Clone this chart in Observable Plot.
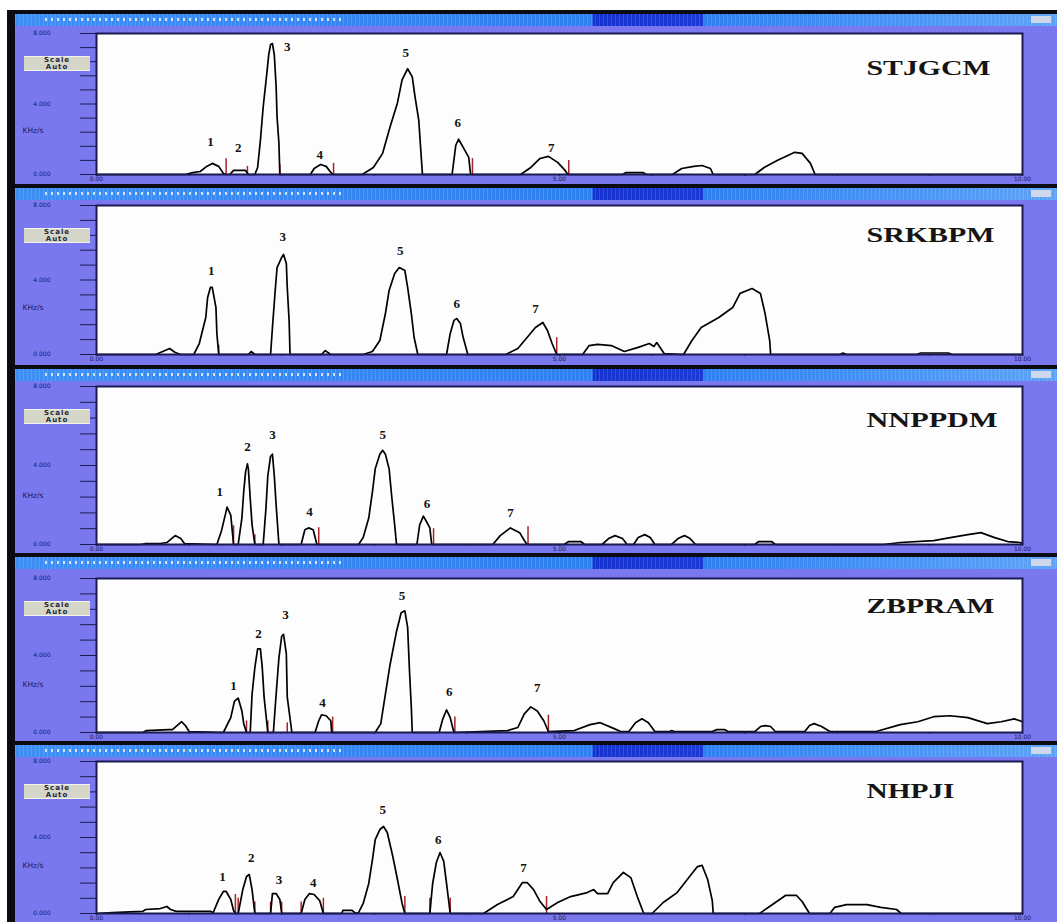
<!DOCTYPE html>
<html>
<head>
<meta charset="utf-8">
<script src="https://cdn.jsdelivr.net/npm/d3@7"></script>
<script src="https://cdn.jsdelivr.net/npm/@observablehq/plot@0.6"></script>
<style>
  html, body { margin: 0; padding: 0; background: #ffffff; }
  #wrap { position: absolute; left: 7px; top: 10px; width: 1042px; border-left: 8px solid #0b0b14; }
  .panel { position: relative; width: 1042px; }
  .blackbar { height: 4px; background: #0b0b14; }
  .titlebar { position: relative; height: 12px;
    background:
      repeating-linear-gradient(90deg, rgba(255,255,255,0.13) 0 1px, rgba(255,255,255,0) 1px 4px),
      linear-gradient(to right, #3f8ff3 0%, #2f80f0 55.4%, #1733cf 55.5%, #1a3ad6 66%, #2f80f0 66.1%, #5ea3f6 100%);
  }
  .titlebar .dots { position: absolute; left: 30px; top: 4px; width: 300px; height: 3px;
    background: repeating-linear-gradient(90deg, rgba(255,255,255,0.75) 0 2px, rgba(255,255,255,0) 2px 6px); }
  .titlebar .mini { position: absolute; right: 6px; top: 2px; width: 20px; height: 7px; background: #cfd8ea; }
  .btn { position: absolute; left: 9px; width: 66px; height: 13px; background: #d6d6c8;
    border-top: 1px solid #f4f4ee; border-bottom: 1px solid #f4f4ee;
    font: bold 7px "DejaVu Sans", sans-serif; color: #26263a; text-align: center; line-height: 6.5px; letter-spacing: 1px; }
  svg { display: block; }
</style>
</head>
<body>
<div id="wrap"></div>
<script>
// ---------------- data ----------------
const sampleNames = ["STJGCM", "SRKBPM", "NNPPDM", "ZBPRAM", "NHPJI"];
const unitLabel = "KHz/s";
const buttonText = ["Scale", "Auto"];
const timeTicks = [0, 1, 2, 3, 4, 5, 6, 7, 8, 9, 10];
const signalTicks = [0, 0.8, 1.6, 2.4, 3.2, 4, 4.8, 5.6, 6.4, 7.2, 8];

// traces: [time (min), signal]
const traceSTJGCM = [
  [0,0],[0.96,0],[1.04,0.11],[1.12,0.17],[1.19,0.46],[1.25,0.63],[1.32,0.46],[1.37,0.06],[1.40,0],[1.44,0],
  [1.48,0.23],[1.61,0.23],[1.64,0],[1.71,0],[1.74,0.40],[1.77,1.94],[1.80,3.83],[1.84,5.77],[1.86,6.80],
  [1.88,7.37],[1.90,7.43],[1.92,6.80],[1.94,4.97],[1.95,3.26],[1.97,1.77],[1.98,0],[2.31,0],[2.35,0.34],
  [2.42,0.57],[2.48,0.46],[2.54,0.06],[2.56,0],[2.87,0],[2.99,0.40],[3.09,1.20],[3.17,2.69],[3.25,4.06],
  [3.30,5.37],[3.36,6.00],[3.41,5.54],[3.44,4.40],[3.48,3.09],[3.50,1.54],[3.52,0],[3.84,0],[3.88,1.66],
  [3.91,2.00],[3.96,1.54],[4.02,0.97],[4.04,0],[4.58,0],[4.69,0.40],[4.79,0.91],[4.88,1.03],[4.98,0.69],
  [5.06,0.23],[5.09,0],[5.68,0],[5.72,0.11],[5.90,0.11],[5.94,0],[6.22,0],[6.32,0.34],[6.45,0.46],
  [6.54,0.51],[6.63,0.34],[6.66,0],[7.11,0],[7.21,0.40],[7.35,0.80],[7.54,1.26],[7.62,1.20],[7.71,0.63],
  [7.76,0],[10,0]
];
const traceSRKBPM = [
  [0,0],[0.64,0],[0.69,0.11],[0.79,0.32],[0.85,0.11],[0.91,0],[1.05,0],[1.11,0.59],[1.18,1.99],[1.20,3.06],
  [1.23,3.60],[1.25,3.60],[1.29,2.52],[1.30,1.13],[1.32,0],[1.64,0],[1.67,0.16],[1.71,0],[1.88,0],[1.90,1.45],
  [1.93,3.44],[1.95,4.67],[2.00,5.21],[2.02,5.37],[2.05,4.89],[2.06,3.60],[2.08,1.83],[2.09,0],[2.43,0],
  [2.47,0.21],[2.53,0],[2.88,0],[2.98,0.16],[3.06,0.75],[3.12,2.20],[3.16,3.44],[3.22,4.35],[3.27,4.67],
  [3.33,4.51],[3.36,3.60],[3.40,2.20],[3.43,0.91],[3.47,0],[3.78,0],[3.82,1.13],[3.86,1.83],[3.89,1.93],
  [3.93,1.66],[3.96,0.91],[4.01,0],[4.42,0],[4.55,0.32],[4.65,0.91],[4.74,1.45],[4.82,1.72],[4.87,1.29],
  [4.92,0.59],[4.97,0],[5.25,0],[5.32,0.48],[5.41,0.54],[5.56,0.48],[5.70,0.16],[5.85,0.38],[5.97,0.59],
  [6.02,0.43],[6.05,0.64],[6.13,0.05],[6.34,0],[6.43,0.75],[6.53,1.45],[6.72,1.99],[6.87,2.52],[6.95,3.28],
  [7.08,3.54],[7.17,3.28],[7.22,2.20],[7.27,0.75],[7.28,0],[8.03,0],[8.06,0.08],[8.10,0],[8.86,0],
  [8.90,0.08],[9.20,0.08],[9.24,0],[10,0]
];
const traceNNPPDM = [
  [0,0],[0.48,0],[0.53,0.05],[0.69,0.05],[0.76,0.10],[0.81,0.30],[0.85,0.45],[0.91,0.30],[0.95,0.05],
  [1.30,0],[1.35,0.70],[1.39,1.49],[1.41,1.89],[1.45,1.49],[1.47,0.50],[1.48,0],[1.53,0],[1.57,1.34],
  [1.59,2.68],[1.61,3.68],[1.63,4.08],[1.64,3.83],[1.66,2.34],[1.68,0.99],[1.71,0],[1.80,0],[1.83,1.84],
  [1.85,3.48],[1.88,4.47],[1.90,4.57],[1.92,3.48],[1.94,1.99],[1.97,0],[2.21,0],[2.25,0.75],[2.29,0.84],
  [2.34,0.75],[2.38,0],[2.83,0],[2.88,0.35],[2.94,1.34],[2.98,2.68],[3.01,3.83],[3.06,4.57],[3.09,4.77],
  [3.12,4.57],[3.16,3.83],[3.19,2.34],[3.22,0.99],[3.24,0],[3.46,0],[3.49,0.99],[3.53,1.44],[3.56,1.19],
  [3.60,0.84],[3.62,0],[4.28,0],[4.36,0.45],[4.47,0.84],[4.57,0.60],[4.62,0.20],[4.65,0],[5.05,0],
  [5.10,0.15],[5.23,0.15],[5.27,0],[5.46,0],[5.53,0.30],[5.60,0.45],[5.68,0.30],[5.73,0],[5.80,0],
  [5.85,0.35],[5.92,0.50],[5.98,0.35],[6.03,0],[6.21,0],[6.28,0.30],[6.35,0.45],[6.41,0.30],[6.47,0],
  [7.11,0],[7.15,0.15],[7.29,0.15],[7.33,0],[8.50,0],[8.68,0.10],[9.04,0.20],[9.22,0.35],[9.41,0.50],
  [9.55,0.60],[9.70,0.35],[9.84,0.15],[9.97,0.10],[10,0.05]
];
const traceZBPRAM = [
  [0,0],[0.50,0],[0.54,0.10],[0.78,0.15],[0.82,0.15],[0.87,0.36],[0.92,0.56],[0.96,0.36],[1.00,0.05],
  [1.37,0],[1.45,0.77],[1.49,1.63],[1.53,1.79],[1.57,1.12],[1.59,0.46],[1.62,0],[1.66,0],[1.68,1.99],
  [1.71,3.37],[1.74,4.34],[1.77,4.34],[1.79,3.37],[1.81,1.84],[1.85,0],[1.91,0],[1.94,1.99],[1.97,3.88],
  [2.00,5.00],[2.02,5.10],[2.05,4.08],[2.06,1.84],[2.11,0],[2.36,0],[2.40,0.61],[2.43,0.92],[2.48,0.87],
  [2.53,0.61],[2.54,0],[3.01,0],[3.07,0.46],[3.12,1.99],[3.17,3.52],[3.24,5.25],[3.29,6.22],[3.33,6.32],
  [3.36,5.46],[3.38,3.21],[3.40,1.28],[3.41,0],[3.70,0],[3.74,0.71],[3.78,1.17],[3.82,0.77],[3.86,0],
  [4.44,0.10],[4.55,0.26],[4.62,0.97],[4.69,1.33],[4.76,1.12],[4.83,0.61],[4.88,0.05],[5.16,0.10],
  [5.33,0.41],[5.44,0.51],[5.59,0.20],[5.66,0.05],[5.75,0.05],[5.82,0.51],[5.89,0.71],[5.96,0.51],
  [6.03,0.05],[6.19,0.05],[6.21,0.10],[6.24,0.05],[6.65,0.05],[6.70,0.15],[6.78,0.15],[6.82,0.05],
  [7.11,0.05],[7.17,0.31],[7.22,0.36],[7.28,0.31],[7.33,0.05],[7.65,0.05],[7.70,0.36],[7.75,0.46],
  [7.83,0.31],[7.92,0.05],[8.42,0.05],[8.68,0.41],[8.87,0.56],[9.04,0.82],[9.22,0.87],[9.41,0.77],
  [9.62,0.46],[9.77,0.56],[9.91,0.71],[10,0.56]
];
const traceNHPJI = [
  [0,0],[0.17,0.05],[0.50,0.11],[0.53,0.21],[0.69,0.26],[0.76,0.37],[0.80,0.21],[0.86,0.11],[1.23,0.11],
  [1.26,0.05],[1.32,0.74],[1.37,1.16],[1.40,1.16],[1.45,0.74],[1.48,0.16],[1.50,0],[1.53,0],[1.58,1.26],
  [1.62,1.95],[1.65,2.05],[1.68,1.26],[1.71,0],[1.88,0],[1.90,1.05],[1.94,1.05],[1.98,0.74],[2.00,0],
  [2.21,0],[2.25,0.74],[2.30,1.05],[2.35,1.00],[2.41,0.68],[2.45,0],[2.65,0],[2.66,0.16],[2.76,0.16],
  [2.80,0],[2.83,0.05],[2.88,0.53],[2.94,1.58],[2.98,2.84],[3.01,3.89],[3.06,4.42],[3.10,4.58],[3.14,4.26],
  [3.20,3.00],[3.25,1.79],[3.30,0.53],[3.33,0],[3.60,0],[3.63,1.58],[3.67,2.68],[3.71,3.21],[3.75,2.74],
  [3.78,1.58],[3.82,0],[4.18,0],[4.33,0.47],[4.50,0.89],[4.60,1.63],[4.65,1.63],[4.72,1.26],[4.79,0.63],
  [4.86,0.21],[4.98,0.58],[5.12,0.89],[5.30,1.10],[5.37,1.26],[5.41,1.05],[5.52,1.05],[5.58,1.63],
  [5.69,2.16],[5.77,1.89],[5.84,0.89],[5.91,0],[6.00,0],[6.12,0.58],[6.27,1.10],[6.38,1.79],[6.49,2.47],
  [6.54,2.53],[6.60,1.79],[6.65,0.68],[6.66,0],[7.16,0],[7.30,0.47],[7.44,0.95],[7.56,0.95],[7.62,0.63],
  [7.70,0],[7.92,0],[7.97,0.32],[8.10,0.47],[8.32,0.47],[8.47,0.32],[8.64,0.21],[8.69,0],[10,0]
];

// peak number labels: [peak, time, signal]
const labelsSTJGCM = [["1",1.23,1.83],["2",1.53,1.49],["3",2.06,7.26],["4",2.41,1.14],["5",3.34,6.91],["6",3.90,2.91],["7",4.91,1.54]];
const labelsSRKBPM = [["1",1.24,4.51],["3",2.01,6.34],["5",3.28,5.58],["6",3.89,2.74],["7",4.74,2.47]];
const labelsNNPPDM = [["1",1.33,2.68],["2",1.63,4.97],["3",1.90,5.57],["4",2.30,1.64],["5",3.09,5.57],["6",3.57,2.04],["7",4.47,1.59]];
const labelsZBPRAM = [["1",1.48,2.40],["2",1.75,5.10],["3",2.04,6.12],["4",2.44,1.53],["5",3.30,7.09],["6",3.81,2.09],["7",4.76,2.30]];
const labelsNHPJI  = [["1",1.36,1.95],["2",1.67,2.95],["3",1.97,1.79],["4",2.34,1.63],["5",3.09,5.47],["6",3.69,3.89],["7",4.61,2.42]];

// integration markers: [time, height]
const marksSTJGCM = [[1.40,0.90],[1.63,0.46],[1.98,0.55],[2.56,0.63],[4.06,0.90],[5.10,0.80]];
const marksSRKBPM = [[1.32,0.50],[4.97,0.90]];
const marksNNPPDM = [[1.48,0.95],[1.71,0.50],[2.40,0.85],[3.64,0.80],[4.66,0.90]];
const marksZBPRAM = [[1.62,0.60],[1.85,0.60],[2.06,0.50],[2.55,0.80],[3.87,0.80],[4.88,0.90]];
const marksNHPJI  = [[1.50,1.00],[1.53,0.80],[1.71,0.60],[1.88,0.60],[2.00,0.60],[2.21,0.60],[2.45,0.80],[3.33,0.90],[3.60,0.80],[3.82,0.80],[4.86,0.90]];

// ---------------- layout (per panel) ----------------
const traces = [traceSTJGCM, traceSRKBPM, traceNNPPDM, traceZBPRAM, traceNHPJI];
const labelSets = [labelsSTJGCM, labelsSRKBPM, labelsNNPPDM, labelsZBPRAM, labelsNHPJI];
const markerSets = [marksSTJGCM, marksSRKBPM, marksNNPPDM, marksZBPRAM, marksNHPJI];
const layout = [
  {mt: 7,  ph: 141, mb: 10, nameDy: 35, nameW: 124},
  {mt: 5,  ph: 149, mb: 11, nameDy: 30, nameW: 128},
  {mt: 5,  ph: 158, mb: 9,  nameDy: 34, nameW: 131},
  {mt: 9,  ph: 154, mb: 9,  nameDy: 28, nameW: 128},
  {mt: 4,  ph: 152, mb: 9,  nameDy: 30, nameW: 88}
];

const PURPLE = "#7a78ee";
const NAVY = "#1b1b52";
const wrap = document.getElementById("wrap");

sampleNames.forEach((name, i) => {
  const L = layout[i];
  const panel = document.createElement("div");
  panel.className = "panel";
  const bb = document.createElement("div"); bb.className = "blackbar"; panel.appendChild(bb);
  const tb = document.createElement("div"); tb.className = "titlebar";
  tb.innerHTML = '<div class="dots"></div><div class="mini"></div>';
  panel.appendChild(tb);

  const trace = traces[i].map(([t, v]) => ({t, v}));
  const svg = Plot.plot({
    width: 1042,
    height: L.mt + L.ph + L.mb,
    marginLeft: 81, marginRight: 35, marginTop: L.mt, marginBottom: L.mb,
    style: {background: PURPLE, color: NAVY, fontSize: "6px", fontFamily: "DejaVu Sans, sans-serif"},
    x: {domain: [0, 10], ticks: timeTicks, tickSize: 2, tickPadding: 0,
        tickFormat: d => (d % 5 === 0 ? d.toFixed(2) : ""), label: null},
    y: {domain: [0, 8], ticks: signalTicks, tickSize: 16, tickPadding: 30,
        tickFormat: d => (Math.abs(d - Math.round(d / 4) * 4) < 1e-6 ? d.toFixed(3) : ""), label: null},
    marks: [
      Plot.frame({fill: "#fdfdfd"}),
      Plot.ruleX(markerSets[i], {x: d => d[0], y1: 0, y2: d => d[1], stroke: "#a82424", strokeWidth: 1.5}),
      Plot.line(trace, {x: "t", y: "v", stroke: "#000", strokeWidth: 1.7, curve: "linear"}),
      Plot.text(labelSets[i], {x: d => d[1], y: d => d[2], text: d => d[0],
        fontFamily: "Liberation Serif, serif", fontWeight: "bold", fontSize: 13, fill: "#111"}),
      Plot.text([name], {frameAnchor: "top-left", dx: 770, dy: L.nameDy, text: d => d,
        textAnchor: "start", lineAnchor: "middle",
        fontFamily: "Liberation Serif, serif", fontWeight: "bold", fontSize: 20, fill: "#151515"}),
      Plot.text([unitLabel], {frameAnchor: "left", y: 2.5, dx: -74, text: d => d, textAnchor: "start",
        fontSize: 7.5, fill: NAVY}),
      Plot.frame({stroke: NAVY, strokeWidth: 2})
    ]
  });
  // stretch the sample name horizontally as in the original screenshot
  d3.select(svg).selectAll("text").filter(function() { return this.textContent === name; })
    .attr("textLength", L.nameW).attr("lengthAdjust", "spacingAndGlyphs");
  panel.appendChild(svg);

  const btn = document.createElement("div");
  btn.className = "btn";
  btn.style.top = (16 + L.mt + 23) + "px";
  btn.innerHTML = buttonText.join("<br>");
  panel.appendChild(btn);

  wrap.appendChild(panel);
});
</script>
</body>
</html>
